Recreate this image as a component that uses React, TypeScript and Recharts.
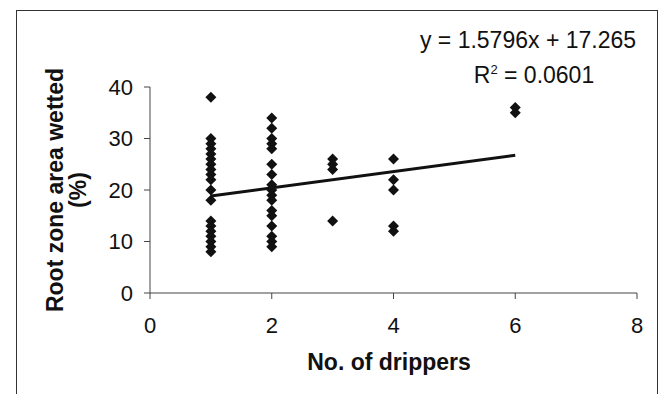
import React from "react";
import { ScatterChart, Scatter, XAxis, YAxis, ReferenceLine, Customized } from "recharts";

// Root zone area wetted (%) observed for each number of drippers
const drippers1 = [38, 30, 29, 28, 27, 26, 25, 24, 23, 22, 20, 18, 14, 13, 12, 11, 10, 9, 8];
const drippers2 = [34, 32, 30, 29, 28, 25, 23, 21, 20, 19, 18, 16, 15, 13, 11, 10, 9];
const drippers3 = [26, 25, 24, 14];
const drippers4 = [26, 22, 20, 13, 12];
const drippers6 = [36, 35];

const groups: [number, number[]][] = [
  [1, drippers1],
  [2, drippers2],
  [3, drippers3],
  [4, drippers4],
  [6, drippers6],
];

const xTicks = [0, 2, 4, 6, 8];
const yTicks = [0, 10, 20, 30, 40];

const slope = 1.5796;
const intercept = 17.265;
const r2 = "0.0601";

const xTitle = "No. of drippers";
const yTitle1 = "Root zone area wetted";
const yTitle2 = "(%)";

const points = groups.flatMap(([x, ys]) => ys.map((y) => ({ x, y })));
const xs = points.map((p) => p.x);
const xMin = Math.min(...xs);
const xMax = Math.max(...xs);
const trend = [
  { x: xMin, y: slope * xMin + intercept },
  { x: xMax, y: slope * xMax + intercept },
];

const FONT = "'Liberation Sans', Arial, sans-serif";

const Diamond = (props: any) => {
  const { cx, cy } = props;
  if (cx == null || cy == null) return null;
  const h = 5.5;
  return (
    <polygon
      points={`${cx},${cy - h} ${cx + h},${cy} ${cx},${cy + h} ${cx - h},${cy}`}
      fill="#111"
    />
  );
};

const Texts = () => (
  <g fontFamily={FONT} fill="#111">
    <text x={528} y={48} fontSize={23} textAnchor="middle">
      {`y = ${slope}x + ${intercept}`}
    </text>
    <text x={534} y={83} fontSize={23} textAnchor="middle">
      <tspan>R</tspan>
      <tspan dy={-9} fontSize={13}>2</tspan>
      <tspan dy={9}>{` = ${r2}`}</tspan>
    </text>
    <text x={389} y={370} fontSize={23} fontWeight="bold" textAnchor="middle">
      {xTitle}
    </text>
    <text
      x={63}
      y={190}
      fontSize={23}
      fontWeight="bold"
      textAnchor="middle"
      transform="rotate(-90 63 190)"
    >
      {yTitle1}
    </text>
    <text
      x={86}
      y={190}
      fontSize={23}
      fontWeight="bold"
      textAnchor="middle"
      transform="rotate(-90 86 190)"
    >
      {yTitle2}
    </text>
  </g>
);

export default function App() {
  return (
    <div
      style={{
        position: "absolute",
        left: 0,
        top: 0,
        width: 665,
        height: 394,
        overflow: "hidden",
        background: "#fff",
      }}
    >
      <div
        style={{
          position: "absolute",
          left: 16,
          top: 10,
          width: 642,
          height: 420,
          border: "1px solid #333",
          boxSizing: "border-box",
        }}
      />
      <div style={{ position: "absolute", left: 0, top: 0 }}>
        <ScatterChart
          width={665}
          height={394}
          margin={{ top: 87, right: 28, bottom: 71, left: 0 }}
        >
          <XAxis
            type="number"
            dataKey="x"
            domain={[0, 8]}
            ticks={xTicks}
            interval={0}
            allowDataOverflow
            height={30}
            tickSize={6}
            tickMargin={18}
            stroke="#444"
            tick={{ fill: "#111", fontSize: 22, fontFamily: FONT }}
          />
          <YAxis
            type="number"
            dataKey="y"
            domain={[0, 40]}
            ticks={yTicks}
            interval={0}
            width={150}
            tickSize={6}
            tickMargin={11}
            stroke="#444"
            tick={{ fill: "#111", fontSize: 22, fontFamily: FONT }}
          />
          <ReferenceLine
            segment={trend}
            stroke="#111"
            strokeWidth={3}
            ifOverflow="extendDomain"
          />
          <Scatter data={points} shape={<Diamond />} isAnimationActive={false} />
          <Customized component={Texts} />
        </ScatterChart>
      </div>
    </div>
  );
}
